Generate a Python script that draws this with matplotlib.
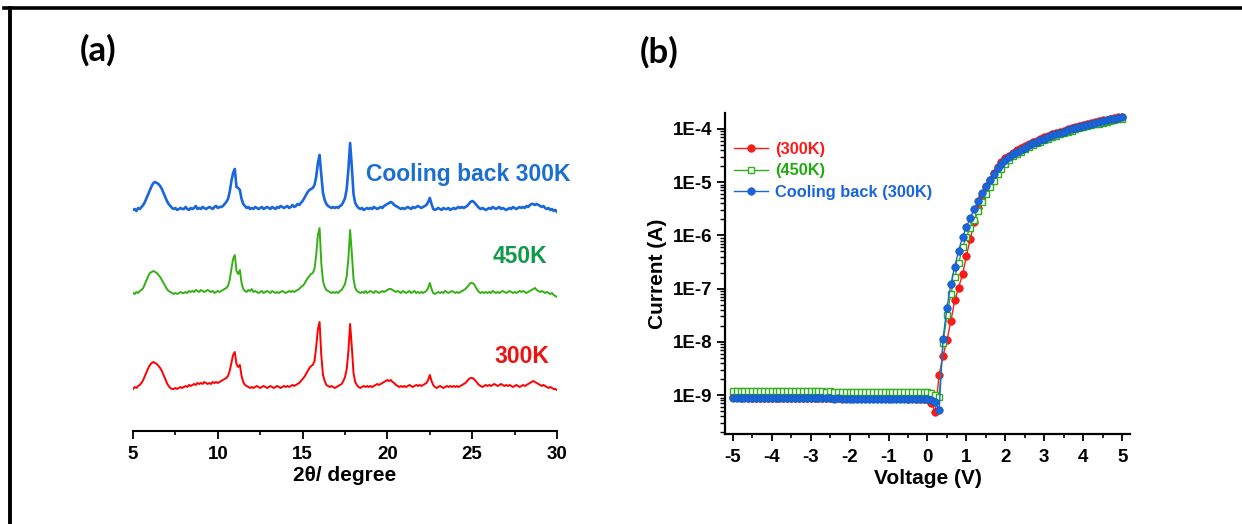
import numpy as np
import matplotlib
matplotlib.use('Agg')
import matplotlib.pyplot as plt
from matplotlib.lines import Line2D
from matplotlib.ticker import MultipleLocator, LogLocator, NullFormatter

plt.rcParams['font.family'] = ['Liberation Sans', 'DejaVu Sans']
plt.rcParams['font.weight'] = 'bold'
plt.rcParams['axes.labelweight'] = 'bold'
plt.rcParams['axes.unicode_minus'] = False

# ---- (a) XRD patterns, 2theta from 5 to 30 deg in 0.1 deg steps ----
two_theta = np.round(np.arange(5.0, 30.05, 0.1), 1)

xrd_300k = [
    8, 10, 9, 11, 12, 14, 17, 21, 25, 29, 32, 34, 35, 34, 33, 31, 29, 26, 22, 18,
    14, 11, 9, 8, 8, 9, 8, 9, 10, 9, 10, 11, 10, 12, 11, 12, 13, 12, 14, 13,
    14, 13, 15, 14, 13, 14, 13, 15, 14, 15, 14, 15, 16, 17, 18, 19, 21, 26, 34, 42,
    45, 33, 30, 32, 21, 15, 12, 11, 10, 9, 10, 9, 10, 11, 10, 9, 10, 11, 10, 9,
    10, 11, 10, 9, 10, 11, 10, 9, 10, 11, 10, 11, 10, 11, 12, 11, 12, 13, 14, 16,
    18, 20, 23, 26, 29, 31, 32, 36, 50, 68, 75, 42, 22, 16, 12, 11, 10, 11, 10, 9,
    10, 11, 12, 13, 16, 20, 28, 46, 73, 50, 24, 15, 12, 10, 9, 10, 11, 10, 11, 10,
    11, 10, 11, 12, 13, 12, 13, 14, 15, 16, 17, 16, 17, 15, 14, 12, 11, 10, 11, 10,
    11, 10, 11, 12, 11, 10, 11, 12, 11, 12, 11, 12, 13, 14, 17, 22, 16, 12, 10, 9,
    10, 11, 10, 9, 10, 11, 10, 11, 10, 11, 10, 11, 10, 11, 12, 13, 14, 16, 18, 19,
    19, 18, 16, 14, 12, 11, 10, 11, 12, 11, 12, 11, 12, 13, 12, 11, 12, 13, 12, 11,
    12, 11, 12, 11, 10, 11, 12, 11, 10, 11, 12, 11, 12, 13, 14, 15, 16, 15, 14, 13,
    12, 11, 12, 11, 10, 9, 10, 9, 8, 8, 7]

xrd_450k = [
    10, 9, 11, 10, 12, 13, 15, 19, 23, 27, 30, 31, 32, 31, 30, 28, 26, 23, 20, 17,
    14, 12, 11, 10, 9, 10, 9, 10, 11, 10, 10, 11, 10, 12, 11, 12, 11, 13, 12, 11,
    13, 12, 11, 12, 13, 12, 11, 12, 10, 11, 12, 11, 12, 13, 14, 15, 17, 23, 34, 44,
    48, 32, 29, 33, 20, 14, 12, 11, 13, 12, 14, 11, 12, 11, 10, 11, 12, 10, 11, 12,
    11, 10, 12, 11, 10, 11, 10, 11, 12, 11, 10, 11, 12, 11, 12, 11, 12, 13, 14, 16,
    17, 19, 22, 25, 27, 29, 30, 34, 48, 68, 75, 40, 22, 16, 13, 12, 11, 10, 11, 10,
    11, 10, 12, 13, 16, 19, 27, 45, 73, 50, 24, 15, 12, 11, 10, 11, 10, 12, 10, 11,
    12, 11, 10, 12, 11, 10, 11, 12, 11, 12, 13, 14, 14, 13, 12, 11, 12, 11, 10, 12,
    11, 10, 11, 12, 10, 11, 12, 10, 11, 10, 11, 10, 11, 12, 15, 20, 14, 10, 9, 10,
    11, 10, 11, 10, 12, 11, 10, 11, 12, 11, 10, 11, 10, 11, 12, 13, 14, 16, 18, 20,
    20, 19, 16, 13, 11, 10, 11, 10, 11, 10, 11, 10, 12, 11, 10, 11, 10, 11, 12, 11,
    10, 11, 12, 11, 10, 11, 10, 11, 12, 11, 12, 11, 10, 11, 12, 13, 14, 15, 13, 12,
    11, 12, 11, 10, 11, 10, 9, 10, 8, 7, 6]

xrd_cool = [
    9, 10, 8, 11, 10, 12, 14, 17, 21, 25, 29, 33, 36, 37, 36, 35, 33, 30, 26, 22,
    18, 15, 13, 11, 10, 11, 9, 10, 11, 10, 10, 12, 10, 9, 11, 10, 11, 13, 10, 11,
    10, 12, 11, 10, 11, 12, 11, 10, 12, 13, 11, 12, 12, 13, 15, 17, 20, 27, 38, 46,
    50, 32, 31, 29, 20, 15, 13, 11, 12, 10, 11, 10, 12, 11, 10, 11, 12, 10, 11, 12,
    11, 10, 12, 11, 10, 12, 11, 13, 12, 11, 12, 13, 11, 12, 14, 12, 13, 15, 14, 16,
    18, 21, 24, 27, 29, 30, 31, 34, 42, 56, 64, 44, 26, 19, 15, 13, 12, 11, 12, 11,
    12, 11, 13, 14, 17, 21, 30, 50, 76, 52, 25, 16, 13, 11, 10, 11, 9, 10, 11, 10,
    11, 10, 12, 11, 10, 11, 12, 11, 13, 14, 15, 16, 17, 16, 14, 13, 12, 11, 10, 11,
    10, 11, 12, 11, 10, 12, 11, 12, 13, 12, 11, 12, 13, 14, 17, 21, 15, 10, 9, 10,
    11, 10, 9, 11, 10, 10, 11, 9, 10, 11, 10, 11, 12, 11, 12, 11, 12, 13, 15, 17,
    18, 17, 15, 13, 11, 10, 11, 10, 9, 10, 11, 10, 12, 11, 10, 11, 12, 10, 11, 10,
    9, 10, 11, 10, 12, 11, 10, 11, 12, 11, 12, 11, 13, 12, 14, 15, 15, 14, 15, 14,
    13, 12, 13, 11, 10, 11, 9, 10, 8, 9, 7]

xrd_labels = ['300K', '450K', 'Cooling back 300K']

# ---- (b) I-V curves, -5 V to 5 V in 0.1 V steps ----
voltage = np.round(np.arange(-5.0, 5.05, 0.1), 1)

current_300k = [
    9.1e-10, 9.1e-10, 9.0e-10, 9.1e-10, 9.0e-10, 9.0e-10, 9.0e-10, 9.0e-10, 8.9e-10, 9.0e-10,
    9.0e-10, 8.9e-10, 8.9e-10, 9.0e-10, 8.9e-10, 8.9e-10, 8.9e-10, 8.9e-10, 8.9e-10, 8.8e-10,
    8.9e-10, 8.9e-10, 8.8e-10, 8.8e-10, 8.9e-10, 8.8e-10, 8.8e-10, 8.8e-10, 8.8e-10, 8.8e-10,
    8.8e-10, 8.8e-10, 8.7e-10, 8.8e-10, 8.8e-10, 8.7e-10, 8.7e-10, 8.8e-10, 8.7e-10, 8.7e-10,
    8.7e-10, 8.7e-10, 8.7e-10, 8.7e-10, 8.7e-10, 8.6e-10, 8.7e-10, 8.6e-10, 8.6e-10, 8.6e-10,
    8.4e-10,
    7.0e-10, 4.9e-10, 2.4e-9, 5.5e-9, 1.07e-8, 2.45e-8, 6.0e-8, 1.05e-7, 1.86e-7, 4.1e-7,
    8.7e-7, 1.78e-6, 3.3e-6, 5.4e-6, 8.0e-6, 1.12e-5, 1.5e-5, 1.95e-5, 2.4e-5, 2.85e-5,
    3.15e-5, 3.6e-5, 3.95e-5, 4.3e-5, 4.72e-5, 5.17e-5, 5.65e-5, 6.05e-5, 6.48e-5, 6.93e-5,
    7.4e-5, 7.92e-5, 8.28e-5, 8.85e-5, 9.25e-5, 9.9e-5, 1.035e-4, 1.085e-4, 1.135e-4, 1.185e-4,
    1.235e-4, 1.295e-4, 1.355e-4, 1.385e-4, 1.445e-4, 1.485e-4, 1.545e-4, 1.585e-4, 1.65e-4, 1.69e-4]

current_450k = [
    1.20e-9, 1.20e-9, 1.20e-9, 1.19e-9, 1.20e-9, 1.19e-9, 1.19e-9, 1.19e-9, 1.19e-9, 1.18e-9,
    1.19e-9, 1.18e-9, 1.18e-9, 1.18e-9, 1.18e-9, 1.18e-9, 1.17e-9, 1.18e-9, 1.17e-9, 1.17e-9,
    1.17e-9, 1.17e-9, 1.17e-9, 1.17e-9, 1.16e-9, 1.17e-9, 1.16e-9, 1.16e-9, 1.16e-9, 1.16e-9,
    1.16e-9, 1.16e-9, 1.16e-9, 1.15e-9, 1.16e-9, 1.15e-9, 1.15e-9, 1.15e-9, 1.15e-9, 1.15e-9,
    1.15e-9, 1.15e-9, 1.14e-9, 1.15e-9, 1.14e-9, 1.14e-9, 1.14e-9, 1.14e-9, 1.14e-9, 1.13e-9,
    1.13e-9,
    1.10e-9, 1.0e-9, 9.3e-10, 9.4e-9, 3.2e-8, 7.9e-8, 1.66e-7, 3.0e-7, 6.0e-7, 9.5e-7,
    1.4e-6, 1.95e-6, 2.9e-6, 4.2e-6, 6.0e-6, 8.0e-6, 1.05e-5, 1.4e-5, 1.75e-5, 2.2e-5,
    2.6e-5, 3.08e-5, 3.42e-5, 3.76e-5, 4.14e-5, 4.55e-5, 4.99e-5, 5.35e-5, 5.74e-5, 6.15e-5,
    6.6e-5, 7.07e-5, 7.4e-5, 7.93e-5, 8.3e-5, 8.9e-5, 9.33e-5, 9.8e-5, 1.03e-4, 1.075e-4,
    1.125e-4, 1.18e-4, 1.235e-4, 1.265e-4, 1.32e-4, 1.36e-4, 1.415e-4, 1.455e-4, 1.52e-4, 1.56e-4]

current_cool = [
    9.0e-10, 9.0e-10, 9.0e-10, 8.9e-10, 9.0e-10, 8.9e-10, 8.9e-10, 8.9e-10, 8.9e-10, 8.9e-10,
    8.9e-10, 8.8e-10, 8.9e-10, 8.8e-10, 8.8e-10, 8.8e-10, 8.8e-10, 8.8e-10, 8.7e-10, 8.8e-10,
    8.7e-10, 8.7e-10, 8.7e-10, 8.7e-10, 8.7e-10, 8.7e-10, 8.6e-10, 8.7e-10, 8.6e-10, 8.6e-10,
    8.6e-10, 8.6e-10, 8.6e-10, 8.6e-10, 8.5e-10, 8.6e-10, 8.5e-10, 8.5e-10, 8.5e-10, 8.5e-10,
    8.5e-10, 8.5e-10, 8.5e-10, 8.4e-10, 8.5e-10, 8.4e-10, 8.4e-10, 8.4e-10, 8.4e-10, 8.3e-10,
    8.3e-10,
    8.1e-10, 7.3e-10, 5.2e-10, 1.15e-8, 4.4e-8, 1.2e-7, 2.6e-7, 5.1e-7, 9.3e-7, 1.43e-6,
    2.16e-6, 3.1e-6, 4.4e-6, 6.3e-6, 8.4e-6, 1.12e-5, 1.45e-5, 1.85e-5, 2.2e-5, 2.63e-5,
    2.95e-5, 3.39e-5, 3.72e-5, 4.07e-5, 4.47e-5, 4.9e-5, 5.37e-5, 5.75e-5, 6.17e-5, 6.61e-5,
    7.08e-5, 7.59e-5, 7.94e-5, 8.51e-5, 8.91e-5, 9.55e-5, 1.0e-4, 1.05e-4, 1.10e-4, 1.15e-4,
    1.20e-4, 1.26e-4, 1.32e-4, 1.35e-4, 1.41e-4, 1.45e-4, 1.51e-4, 1.55e-4, 1.62e-4, 1.66e-4]

iv_labels = ['(300K)', '(450K)', 'Cooling back (300K)']

red = '#ff1a1a'
green = '#2fb01a'
blue = '#1a66d8'

fig = plt.figure(figsize=(12.42, 5.24), dpi=100)

# frame lines around the figure (top and left only)
fig.add_artist(Line2D([0.003, 1.0], [0.984, 0.984], color='black', lw=2.6,
                      transform=fig.transFigure))
fig.add_artist(Line2D([0.008, 0.008], [0.0, 0.984], color='black', lw=2.8,
                      transform=fig.transFigure))

# ---------------- panel (a) ----------------
ax1 = fig.add_axes([0.1071, 0.1775, 0.3414, 0.6317])
offsets = [34, 128, 212]
ax1.plot(two_theta, np.array(xrd_300k) + offsets[0], color='#ff0000', lw=1.4)
ax1.plot(two_theta, np.array(xrd_450k) + offsets[1], color='#33b014', lw=1.4)
ax1.plot(two_theta, np.array(xrd_cool) + offsets[2], color='#1a66dd', lw=1.9)
ax1.text(29.55, 74, xrd_labels[0], color='#ee1111', fontsize=16.5, ha='right', va='center')
ax1.text(29.45, 174, xrd_labels[1], color='#10994a', fontsize=16.5, ha='right', va='center')
ax1.text(30.8, 256, xrd_labels[2], color='#1a6fcf', fontsize=16.5, ha='right', va='center')
ax1.set_xlim(5, 30)
ax1.set_ylim(0, 331)
for s in ['top', 'left', 'right']:
    ax1.spines[s].set_visible(False)
ax1.spines['bottom'].set_linewidth(1.5)
ax1.set_yticks([])
ax1.xaxis.set_major_locator(MultipleLocator(5))
ax1.xaxis.set_minor_locator(MultipleLocator(2.5))
ax1.tick_params(axis='x', which='major', direction='out', length=6, width=1.3,
                labelsize=13.5, pad=5)
ax1.tick_params(axis='x', which='minor', direction='out', length=3, width=1.2)
ax1.set_xlabel('2\u03b8/ degree', fontsize=15, labelpad=2)
fig.text(0.064, 0.905, '(a)', fontsize=25, fontweight='bold', ha='left',
         va='center', family='Lato')

# ---------------- panel (b) ----------------
ax2 = fig.add_axes([0.5837, 0.1718, 0.3261, 0.6126])
ax2.set_yscale('log')
ax2.plot(voltage, current_300k, color=red, lw=1.0, marker='o', ms=5.4,
         mfc=red, mec='#e01010', mew=0.5, label=iv_labels[0])
ax2.plot(voltage, current_450k, color=green, lw=1.0, marker='s', ms=4.3,
         mfc='white', mec=green, mew=1.0, label=iv_labels[1])
ax2.plot(voltage, current_cool, color=blue, lw=1.0, marker='o', ms=5.4,
         mfc=blue, mec='#1458c0', mew=0.5, label=iv_labels[2])
ax2.set_xlim(-5.2, 5.2)
ax2.set_ylim(10 ** -9.73, 10 ** -3.7)
for s in ['top', 'right']:
    ax2.spines[s].set_visible(False)
for s in ['left', 'bottom']:
    ax2.spines[s].set_linewidth(1.6)
ax2.xaxis.set_major_locator(MultipleLocator(1))
ax2.xaxis.set_minor_locator(MultipleLocator(0.5))
ax2.yaxis.set_minor_locator(LogLocator(base=10, subs=np.arange(2, 10), numticks=20))
ax2.yaxis.set_minor_formatter(NullFormatter())
yt = [1e-9, 1e-8, 1e-7, 1e-6, 1e-5, 1e-4]
ax2.set_yticks(yt)
ax2.set_yticklabels(['1E-9', '1E-8', '1E-7', '1E-6', '1E-5', '1E-4'])
ax2.tick_params(axis='x', which='major', direction='out', length=5, width=1.3,
                labelsize=13.5, pad=6)
ax2.tick_params(axis='x', which='minor', direction='out', length=3, width=1.2)
ax2.tick_params(axis='y', which='major', direction='out', length=6, width=1.3,
                labelsize=13.5, pad=3)
ax2.tick_params(axis='y', which='minor', direction='out', length=3.5, width=1.0)
ax2.set_xlabel('Voltage (V)', fontsize=15, labelpad=2)
ax2.set_ylabel('Current (A)', fontsize=15, labelpad=4)
leg = ax2.legend(loc='upper left', bbox_to_anchor=(0.022, 0.91), frameon=False,
                 fontsize=11.8, handlelength=2.1, handletextpad=0.4,
                 labelspacing=0.4, borderpad=0, borderaxespad=0,
                 labelcolor=[red, '#22aa10', blue])
fig.text(0.515, 0.9, '(b)', fontsize=25, fontweight='bold', ha='left',
         va='center', family='Lato')

fig.savefig('out.png', dpi=100)
